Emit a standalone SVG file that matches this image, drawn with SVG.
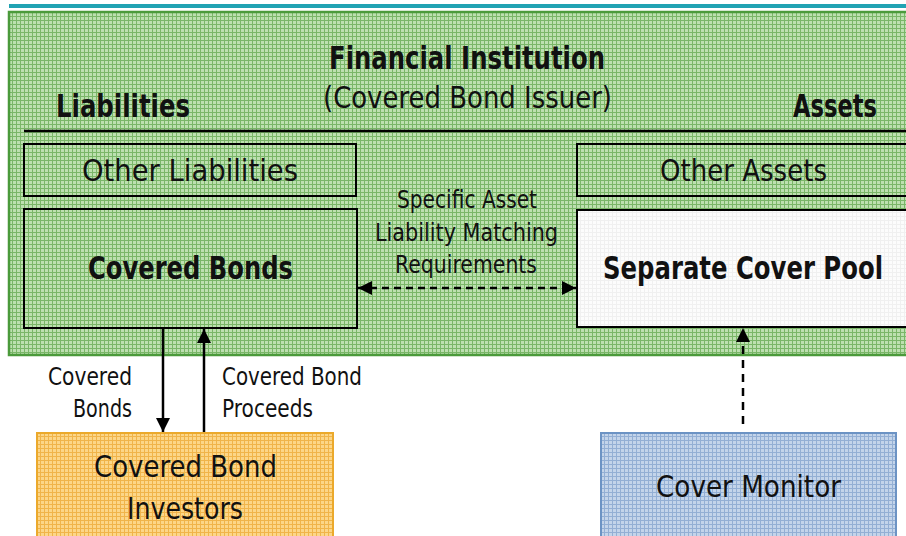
<svg xmlns="http://www.w3.org/2000/svg" width="906" height="536" viewBox="0 0 906 536">
<defs>
<pattern id="pg" width="4" height="4" patternUnits="userSpaceOnUse"><rect width="4" height="4" fill="#bde0b0"/><path d="M0 0.5H4M0.5 0V4" stroke="#7ab668" stroke-width="1"/></pattern>
<pattern id="po" width="4" height="4" patternUnits="userSpaceOnUse"><rect width="4" height="4" fill="#fcd688"/><path d="M0 0.5H4M0.5 0V4" stroke="#f0b44a" stroke-width="1"/></pattern>
<pattern id="pb" width="4" height="4" patternUnits="userSpaceOnUse"><rect width="4" height="4" fill="#c3d4ea"/><path d="M0 0.5H4M0.5 0V4" stroke="#93afd4" stroke-width="1"/></pattern>
<pattern id="pw" width="4" height="4" patternUnits="userSpaceOnUse"><rect width="4" height="4" fill="#fcfcfc"/><path d="M0 0.5H4M0.5 0V4" stroke="#f0f0f0" stroke-width="1"/></pattern>
<marker id="ah" markerUnits="userSpaceOnUse" markerWidth="15" markerHeight="14" refX="14" refY="7" orient="auto-start-reverse"><path d="M0 0L14 7L0 14z" fill="#000"/></marker>
</defs>
<style>
text{font-family:"DejaVu Sans","Liberation Sans",sans-serif;fill:#111}
.b{font-weight:bold}
.h{font-size:32px}
.m{font-size:30.5px}
.s{font-size:24px}
.c{text-anchor:middle}
.e{text-anchor:end}
.box{stroke:#000;stroke-width:2}
.ln{stroke:#000;stroke-width:2.5;fill:none}
</style>
<rect x="9" y="4" width="897" height="4" fill="#21a3b3"/>
<g id="institution">
<rect x="9" y="12" width="905" height="343" fill="url(#pg)" stroke="#4b9a3b" stroke-width="2.5"/>
<text class="b h c" x="467" y="69" textLength="276" lengthAdjust="spacingAndGlyphs">Financial Institution</text>
<text class="m c" x="467.5" y="108" textLength="289" lengthAdjust="spacingAndGlyphs">(Covered Bond Issuer)</text>
<text class="b h" x="56" y="117" textLength="134" lengthAdjust="spacingAndGlyphs">Liabilities</text>
<text class="b h" x="793" y="117" textLength="84" lengthAdjust="spacingAndGlyphs">Assets</text>
<line x1="24" y1="131" x2="906" y2="131" stroke="#000" stroke-width="2.5"/>
</g>
<g id="other-liabilities">
<rect class="box" x="24" y="144" width="332" height="52" fill="none"/>
<text class="m c" x="190" y="181" textLength="216" lengthAdjust="spacingAndGlyphs">Other Liabilities</text>
</g>
<g id="other-assets">
<rect class="box" x="577" y="144" width="331" height="52" fill="none"/>
<text class="m c" x="743.5" y="181" textLength="167" lengthAdjust="spacingAndGlyphs">Other Assets</text>
</g>
<g id="covered-bonds">
<rect class="box" x="24" y="209" width="333" height="119" fill="none"/>
<text class="b h c" x="190.5" y="279" textLength="205" lengthAdjust="spacingAndGlyphs">Covered Bonds</text>
</g>
<g id="cover-pool">
<rect class="box" x="577" y="210" width="331" height="117" fill="url(#pw)"/>
<text class="b h c" x="743" y="279" textLength="280" lengthAdjust="spacingAndGlyphs">Separate Cover Pool</text>
</g>
<g id="matching-label">
<text class="s c" x="467" y="208" textLength="140" lengthAdjust="spacingAndGlyphs">Specific Asset</text>
<text class="s c" x="466.5" y="241" textLength="183" lengthAdjust="spacingAndGlyphs">Liability Matching</text>
<text class="s c" x="466" y="273" textLength="142" lengthAdjust="spacingAndGlyphs">Requirements</text>
</g>
<g id="investors">
<rect x="37" y="433" width="296" height="110" fill="url(#po)" stroke="#eba92c" stroke-width="2"/>
<text class="m c" x="185.5" y="477" textLength="183" lengthAdjust="spacingAndGlyphs">Covered Bond</text>
<text class="m c" x="185" y="519" textLength="116" lengthAdjust="spacingAndGlyphs">Investors</text>
</g>
<g id="cover-monitor">
<rect x="601" y="433" width="295" height="110" fill="url(#pb)" stroke="#6c93c4" stroke-width="2"/>
<text class="m c" x="748.5" y="497" textLength="185" lengthAdjust="spacingAndGlyphs">Cover Monitor</text>
</g>
<g id="connectors">
<line class="ln" x1="163" y1="328" x2="163" y2="432" marker-end="url(#ah)"/>
<line class="ln" x1="204" y1="432" x2="204" y2="329" marker-end="url(#ah)"/>
<line class="ln" x1="358" y1="288" x2="576" y2="288" stroke-dasharray="7 5" marker-start="url(#ah)" marker-end="url(#ah)"/>
<line class="ln" x1="743" y1="424" x2="743" y2="328" stroke-dasharray="8 6" marker-end="url(#ah)"/>
<text class="s e" x="132" y="385" textLength="84" lengthAdjust="spacingAndGlyphs">Covered</text>
<text class="s e" x="132" y="417" textLength="59" lengthAdjust="spacingAndGlyphs">Bonds</text>
<text class="s" x="222" y="385" textLength="140" lengthAdjust="spacingAndGlyphs">Covered Bond</text>
<text class="s" x="222" y="417" textLength="91" lengthAdjust="spacingAndGlyphs">Proceeds</text>
</g>
</svg>
